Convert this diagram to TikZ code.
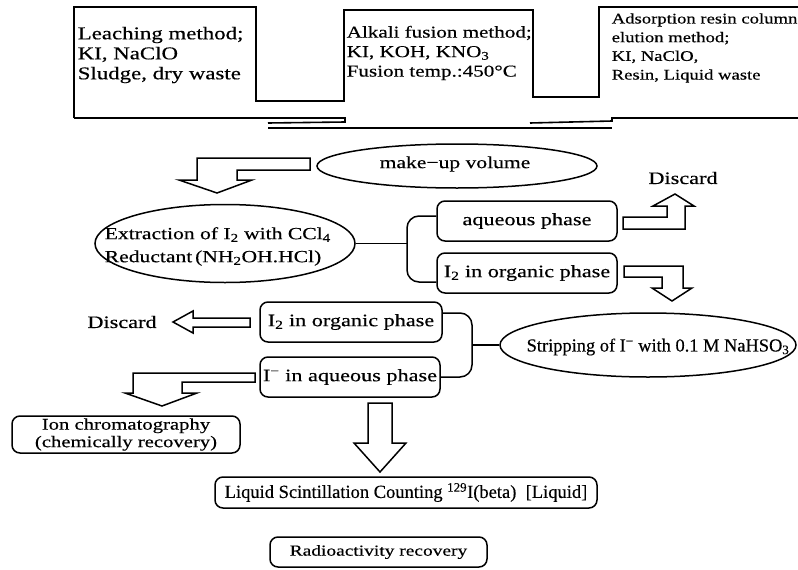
\documentclass[tikz,border=0pt]{standalone}
\usepackage{fontspec}
\setmainfont{Liberation Serif}[FakeBold=0.3]
\newfontfamily\wide{Liberation Serif}[FakeStretch=1.27,FakeBold=0.4]
\usetikzlibrary{shapes.geometric}
\begin{document}
\begin{tikzpicture}[x=1pt,y=-1pt,line width=1.5pt,
  box/.style={draw,rounded corners=8pt,inner sep=0pt},
  ell/.style={draw,ellipse,inner sep=0pt},
  wtxt/.style={inner sep=0pt,font=\wide\fontsize{17.5}{20}\selectfont},
  ptxt/.style={inner sep=0pt,font=\fontsize{18.4}{21}\selectfont},
  harrow/.style={draw,line width=1.5pt,line join=miter,fill=white}]
\useasboundingbox (0,0) rectangle (798,570);

% top boxes outline
\draw[line width=1.6pt] (74,118) -- (74,7) -- (256,7) -- (256,101) -- (344,101) -- (344,10) -- (533,10) -- (533,97) -- (599,97) -- (599,7) -- (798,7);
\draw[line width=1.6pt] (74,118) -- (345,118) -- (345,122) -- (268,123);
\draw[line width=1.6pt] (268,128) -- (612,128);
\draw[line width=1.6pt] (530,123) -- (612,121) -- (612,118) -- (798,118);

\node[wtxt,anchor=west,align=left,font=\wide\fontsize{18}{20}\selectfont] (t1) at (77,55) {Leaching method;\\KI, NaClO\\Sludge, dry waste};
\node[wtxt,anchor=west,align=left,font=\wide\fontsize{16.6}{19.5}\selectfont] (t2) at (346,53) {Alkali fusion method;\\KI, KOH, KNO\textsubscript{3}\\Fusion temp.:450°C};
\node[wtxt,anchor=west,align=left,font=\wide\fontsize{14.7}{18.7}\selectfont] (t3) at (611,48) {Adsorption resin column\\elution method;\\KI, NaClO,\\Resin, Liquid waste};

% make-up volume
\node[ell,minimum width=280pt,minimum height=44pt] (mk) at (457,166) {};
\node[wtxt,font=\wide\fontsize{17}{20}\selectfont] (mkt) at (455,164) {make−up volume};

% extraction
\node[ell,minimum width=260pt,minimum height=78pt] (ext) at (225,243.5) {};
\node[wtxt,anchor=west,align=left,font=\wide\fontsize{17}{23}\selectfont] (extt) at (104,246.5) {Extraction of I\textsubscript{2} with CCl\textsubscript{4}\\Reductant\,(NH\textsubscript{2}OH.HCl)};

% phases
\node[box,minimum width=180pt,minimum height=40pt,wtxt] (aq) at (527,221) {aqueous phase};
\node[box,minimum width=180pt,minimum height=40pt,wtxt] (org1) at (527,273) {I\textsubscript{2} in organic phase};
\node[wtxt] (d1) at (683,178) {Discard};

\coordinate (j1) at (407,243.5);
\draw (ext.east) -- (j1);
\draw[rounded corners=12pt] ([yshift=5pt]aq.west) -| (j1) |- ([yshift=-9pt]org1.west);

% stripping
\node[ell,minimum width=296pt,minimum height=64pt] (strip) at (648,345) {};
\node[ptxt] (stript) at (658,347) {Stripping of I\textsuperscript{−} with 0.1 M NaHSO\textsubscript{3}};

\node[box,minimum width=182pt,minimum height=40pt,wtxt] (org2) at (351,322) {I\textsubscript{2} in organic phase};
\node[box,minimum width=180pt,minimum height=40pt,wtxt] (aq2) at (350,377) {I\textsuperscript{−} in aqueous phase};
\node[wtxt] (d2) at (122,322) {Discard};

\coordinate (j2) at (472,345);
\draw (strip.west) -- (j2);
\draw[rounded corners=12pt] ([yshift=9pt]org2.east) -| (j2) |- (aq2.east);

% lower boxes
\node[box,minimum width=228pt,minimum height=37pt,align=center,inner sep=0pt,font=\wide\fontsize{16.3}{17.5}\selectfont] (ion) at (126,434.5) {Ion chromatography\\(chemically recovery)};
\node[box,minimum width=382pt,minimum height=31pt,font=\fontsize{18.5}{21}\selectfont] (lsc) at (406,492.5) {Liquid Scintillation Counting \textsuperscript{129}I(beta)~~[Liquid]};
\node[box,minimum width=217pt,minimum height=30pt,font=\wide\fontsize{15.3}{18}\selectfont] (rad) at (378.5,552) {Radioactivity recovery};

% hollow arrows
\path[harrow] (310,158) -- (197,158) -- (197,180) -- (179,180) -- (217,193) -- (252,180) -- (237,180) -- (237,170) -- (310,170) -- cycle;
\path[harrow] (623,217) -- (667,217) -- (667,206) -- (653,206) -- (675,194) -- (694,206) -- (685,206) -- (685,229) -- (623,229) -- cycle;
\path[harrow] (624,266) -- (683,266) -- (683,288) -- (692,288) -- (672,301) -- (652,288) -- (662,288) -- (662,277) -- (624,277) -- cycle;
\path[harrow] (250,318) -- (193,318) -- (193,311) -- (173,322) -- (193,333) -- (193,327) -- (250,327) -- cycle;
\path[harrow] (255,373) -- (133,373) -- (133,393) -- (125,393) -- (162,406) -- (197,393) -- (182,393) -- (182,382) -- (255,382) -- cycle;
\path[harrow] (368,403) -- (368,443) -- (354,443) -- (380,472) -- (406,443) -- (392,443) -- (392,403) -- cycle;
\end{tikzpicture}
\end{document}
